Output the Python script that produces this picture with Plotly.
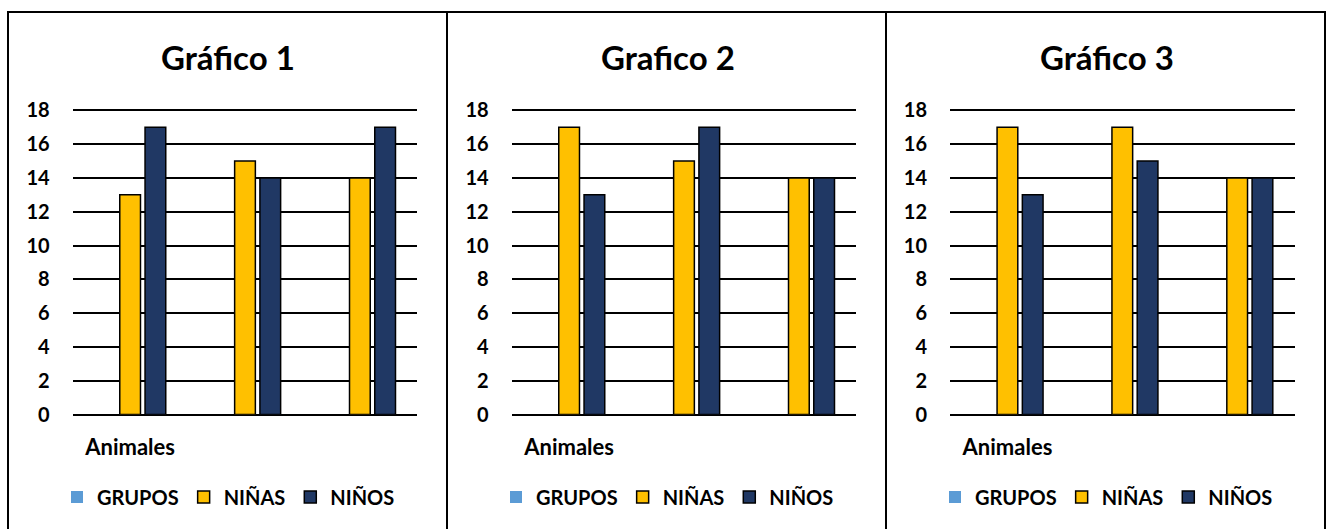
import plotly.graph_objects as go

CATEGORIES = ["Animales", "Grupo B", "Grupo C"]
TICK_LABELS = ["Animales", "", ""]
SERIES = ["GRUPOS", "NIÑAS", "NIÑOS"]
TITLES = ["Gráfico 1", "Grafico 2", "Gráfico 3"]
Y_TICKS = [0, 2, 4, 6, 8, 10, 12, 14, 16, 18]

GRUPOS_1 = [None, None, None]
NINAS_1 = [13, 15, 14]
NINOS_1 = [17, 14, 17]

GRUPOS_2 = [None, None, None]
NINAS_2 = [17, 15, 14]
NINOS_2 = [13, 17, 14]

GRUPOS_3 = [None, None, None]
NINAS_3 = [17, 17, 14]
NINOS_3 = [13, 15, 14]

PANELS = [
    (GRUPOS_1, NINAS_1, NINOS_1),
    (GRUPOS_2, NINAS_2, NINOS_2),
    (GRUPOS_3, NINAS_3, NINOS_3),
]

COLORS = ["#5B9BD5", "#FFC000", "#203864"]
LINEW = [0, 1.5, 1.5]

W, H = 1327, 529
FONT = "Lato"


def px(x):
    return x / W


def py(y):
    return (H - y) / H


PLOT_X = [(72.7, 417.3), (511.7, 856.3), (950, 1294.6)]
PANEL_X = [(8, 447), (447, 886), (886, 1325)]
Y_MAX = 18.2
Y_BOT = 414.5
Y_TOP = Y_BOT - Y_MAX * 16.9

fig = go.Figure()
layout = dict(
    width=W, height=H,
    margin=dict(l=0, r=0, t=0, b=0, autoexpand=False),
    paper_bgcolor="white", plot_bgcolor="white",
    barmode="group", bargap=0.34, bargroupgap=0.18,
    font=dict(family=FONT, color="black"),
    annotations=[], shapes=[],
)

for i, vals in enumerate(PANELS):
    n = "" if i == 0 else str(i + 1)
    leg = "legend" if i == 0 else f"legend{i + 1}"
    for s, name in enumerate(SERIES):
        fig.add_trace(go.Bar(
            x=CATEGORIES, y=vals[s], name=name,
            xaxis=f"x{n}", yaxis=f"y{n}", legend=leg,
            marker=dict(color=COLORS[s], line=dict(color="black", width=LINEW[s])),
            showlegend=True,
        ))
    x0, x1 = PLOT_X[i]
    layout[f"xaxis{n}"] = dict(
        domain=[px(x0), px(x1)], anchor=f"y{n}", automargin=False,
        type="category", categoryorder="array", categoryarray=CATEGORIES,
        tickmode="array", tickvals=CATEGORIES, ticktext=TICK_LABELS,
        showgrid=False, showline=False, zeroline=False, ticks="",
        tickfont=dict(family=FONT, size=22, weight="bold", color="black"),
        ticklabelstandoff=17, fixedrange=True,
    )
    layout[f"yaxis{n}"] = dict(
        domain=[py(Y_BOT), py(Y_TOP)], anchor=f"x{n}", automargin=False,
        range=[0, Y_MAX], tickmode="array", tickvals=Y_TICKS,
        showgrid=True, gridcolor="black", gridwidth=1.6,
        zeroline=True, zerolinecolor="black", zerolinewidth=1.6,
        showline=False, ticks="",
        tickfont=dict(family=FONT, size=20, weight="bold", color="black"),
        ticklabelstandoff=22, fixedrange=True,
    )
    layout[leg] = dict(
        orientation="h", x=px(PANEL_X[i][0] + 49), xanchor="left",
        y=py(497), yanchor="middle",
        font=dict(family=FONT, size=20, weight="bold", color="black"),
        bgcolor="rgba(0,0,0,0)", itemclick=False, itemdoubleclick=False,
        itemwidth=30, tracegroupgap=0,
    )
    cx = (PANEL_X[i][0] + PANEL_X[i][1]) / 2
    layout["annotations"].append(dict(
        text=TITLES[i], x=px(cx + 1), y=py(57), xref="paper", yref="paper",
        xanchor="center", yanchor="middle", showarrow=False,
        font=dict(family=FONT, size=33, weight="bold", color="black"),
    ))

layout["shapes"].append(dict(type="line", xref="paper", yref="paper",
                             x0=px(7), x1=px(1326), y0=py(12), y1=py(12),
                             line=dict(color="black", width=2)))
for xv in [8, 447, 886, 1325]:
    layout["shapes"].append(dict(type="line", xref="paper", yref="paper",
                                 x0=px(xv), x1=px(xv), y0=py(12), y1=0,
                                 line=dict(color="black", width=2)))

fig.update_layout(**layout)

POST = (
    "document.documentElement.style.margin='0';"
    "document.body.style.margin='0';document.body.style.padding='0';"
    "document.body.style.overflow='hidden';"
    "var d=document.getElementById('{plot_id}');"
    "d.style.position='absolute';d.style.left='0px';d.style.top='0px';"
)
fig.write_html("out.html", post_script=POST, config={"displayModeBar": False})
